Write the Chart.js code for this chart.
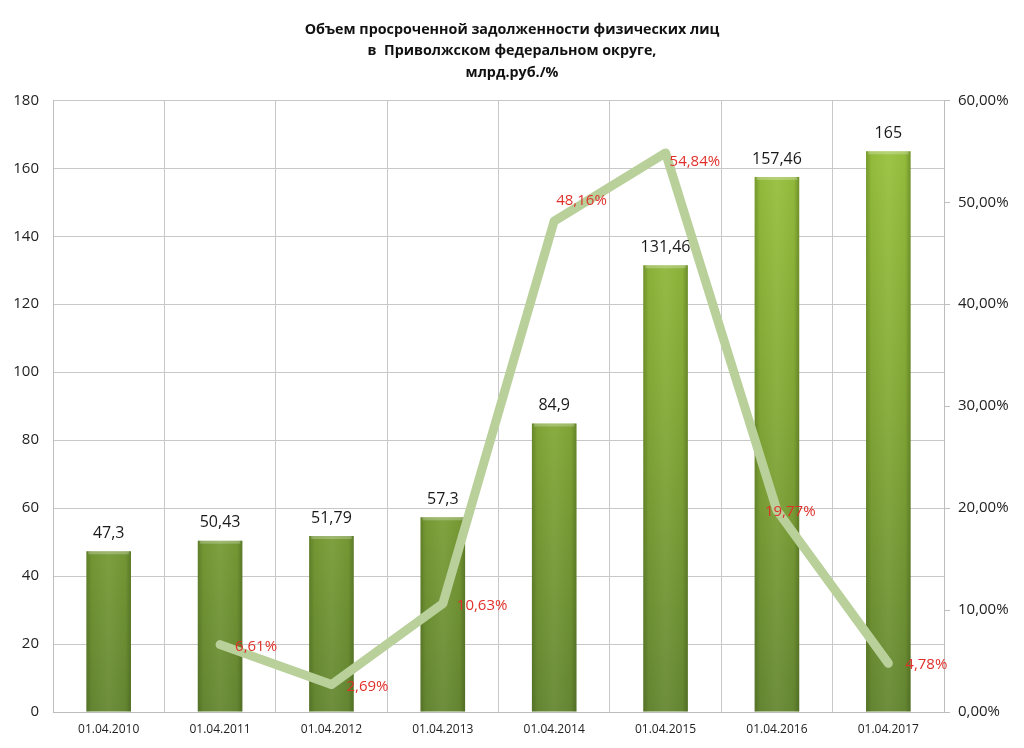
<!DOCTYPE html>
<html>
<head>
<meta charset="utf-8">
<script src="https://cdn.jsdelivr.net/npm/chart.js@4/dist/chart.umd.min.js"></script>
<style>
html,body{margin:0;padding:0;background:#fff;}
#wrap{width:1024px;height:748px;}
</style>
</head>
<body>
<div id="wrap"><canvas id="c" width="1024" height="748"></canvas></div>
<script>
const categories = ["01.04.2010","01.04.2011","01.04.2012","01.04.2013","01.04.2014","01.04.2015","01.04.2016","01.04.2017"];
const volumeValues = [47.3, 50.43, 51.79, 57.3, 84.9, 131.46, 157.46, 165];
const volumeLabels = ["47,3","50,43","51,79","57,3","84,9","131,46","157,46","165"];
const growthValues = [null, 6.61, 2.69, 10.63, 48.16, 54.84, 19.77, 4.78];
const growthLabels = ["", "6,61%", "2,69%", "10,63%", "48,16%", "54,84%", "19,77%", "4,78%"];
const leftTicks = [0,20,40,60,80,100,120,140,160,180];
const rightTicks = [0,10,20,30,40,50,60];
const titleLines = ["Объем просроченной задолженности физических лиц", "в  Приволжском федеральном округе,", "млрд.руб./%"];

// label placement offsets (pixels, relative to the point) for the red line labels
const growthLabelDx = [0, 15, 15, 14, 2, 4, -12, 17];
const growthLabelDy = [0, 2, 2, 2, -20, 9, 1, 1];

const FONT = "'Open Sans', 'Noto Sans', 'DejaVu Sans', sans-serif";

function barGradient(ctx){
  const chart = ctx.chart;
  const area = chart.chartArea;
  if(!area) return '#8ab13a';
  const g = chart.ctx.createLinearGradient(0, area.top, 0, area.bottom);
  g.addColorStop(0, '#9cc63f');
  g.addColorStop(0.5, '#85aa37');
  g.addColorStop(1, '#668833');
  return g;
}

const barShade = {
  id: 'barShade',
  afterDatasetDraw(chart, args){
    if(args.index !== 0) return;
    const c = chart.ctx;
    const meta = chart.getDatasetMeta(0);
    meta.data.forEach(el => {
      const {x, y, base, width} = el.getProps(['x','y','base','width'], true);
      const l = x - width/2, r = x + width/2;
      const g = c.createLinearGradient(l, 0, r, 0);
      g.addColorStop(0, 'rgba(40,60,10,0.30)');
      g.addColorStop(0.12, 'rgba(40,60,10,0.05)');
      g.addColorStop(0.5, 'rgba(255,255,255,0.05)');
      g.addColorStop(0.88, 'rgba(40,60,10,0.05)');
      g.addColorStop(1, 'rgba(40,60,10,0.35)');
      c.save();
      c.fillStyle = g;
      c.fillRect(l, y, width, base - y);
      c.fillStyle = 'rgba(255,255,255,0.25)';
      c.fillRect(l + 2, y, width - 4, 3);
      c.restore();
    });
  }
};

const valueLabels = {
  id: 'valueLabels',
  afterDatasetsDraw(chart){
    const c = chart.ctx;
    c.save();
    const m0 = chart.getDatasetMeta(0);
    c.font = "16px " + FONT;
    c.fillStyle = '#1a1a1a';
    c.textAlign = 'center';
    c.textBaseline = 'middle';
    m0.data.forEach((el, i) => {
      c.fillText(volumeLabels[i], el.x, el.y - 18);
    });
    const m1 = chart.getDatasetMeta(1);
    c.font = "15px " + FONT;
    c.fillStyle = '#e0302a';
    c.textAlign = 'left';
    c.textBaseline = 'middle';
    m1.data.forEach((el, i) => {
      if(growthValues[i] === null) return;
      c.fillText(growthLabels[i], el.x + growthLabelDx[i], el.y + growthLabelDy[i]);
    });
    c.restore();
  }
};

new Chart(document.getElementById('c'), {
  data: {
    labels: categories,
    datasets: [
      {
        type: 'bar',
        data: volumeValues,
        yAxisID: 'y',
        backgroundColor: barGradient,
        categoryPercentage: 0.8,
        barPercentage: 0.5,
        order: 2
      },
      {
        type: 'line',
        data: growthValues,
        yAxisID: 'y1',
        borderColor: '#b9d09b',
        borderWidth: 9,
        borderCapStyle: 'round',
        borderJoinStyle: 'round',
        pointRadius: 0,
        tension: 0,
        spanGaps: false,
        order: 1
      }
    ]
  },
  options: {
    responsive: false,
    animation: false,
    layout: { padding: { top: 0, left: 0, right: 0, bottom: 0 } },
    plugins: {
      legend: { display: false },
      tooltip: { enabled: false },
      title: {
        display: true,
        text: titleLines,
        color: '#111',
        font: { family: FONT, size: 14.3, weight: 'bold', lineHeight: 1.5 },
        padding: { top: 19, bottom: 17 }
      }
    },
    scales: {
      x: {
        grid: { color: '#c8c8c8', offset: true, drawTicks: false },
        border: { color: '#bdbdbd' },
        ticks: { color: '#222', font: { family: FONT, size: 12 }, padding: 10 },
        afterFit(s){ s.height = 36; }
      },
      y: {
        position: 'left',
        min: 0, max: 180,
        afterBuildTicks(s){ s.ticks = leftTicks.map(v => ({value: v})); },
        grid: { color: '#c8c8c8', drawTicks: false },
        border: { color: '#bdbdbd' },
        ticks: { color: '#222', font: { family: FONT, size: 15 }, padding: 14 },
        afterFit(s){ s.width = 53; }
      },
      y1: {
        position: 'right',
        min: 0, max: 60,
        afterBuildTicks(s){ s.ticks = rightTicks.map(v => ({value: v})); },
        grid: { drawOnChartArea: false, drawTicks: true, tickLength: 6, color: '#bdbdbd' },
        border: { color: '#bdbdbd' },
        ticks: {
          color: '#222', font: { family: FONT, size: 15 }, padding: 8,
          callback: v => v.toFixed(2).replace('.', ',') + '%'
        },
        afterFit(s){ s.width = 80; }
      }
    }
  },
  plugins: [barShade, valueLabels]
});
</script>
</body>
</html>
